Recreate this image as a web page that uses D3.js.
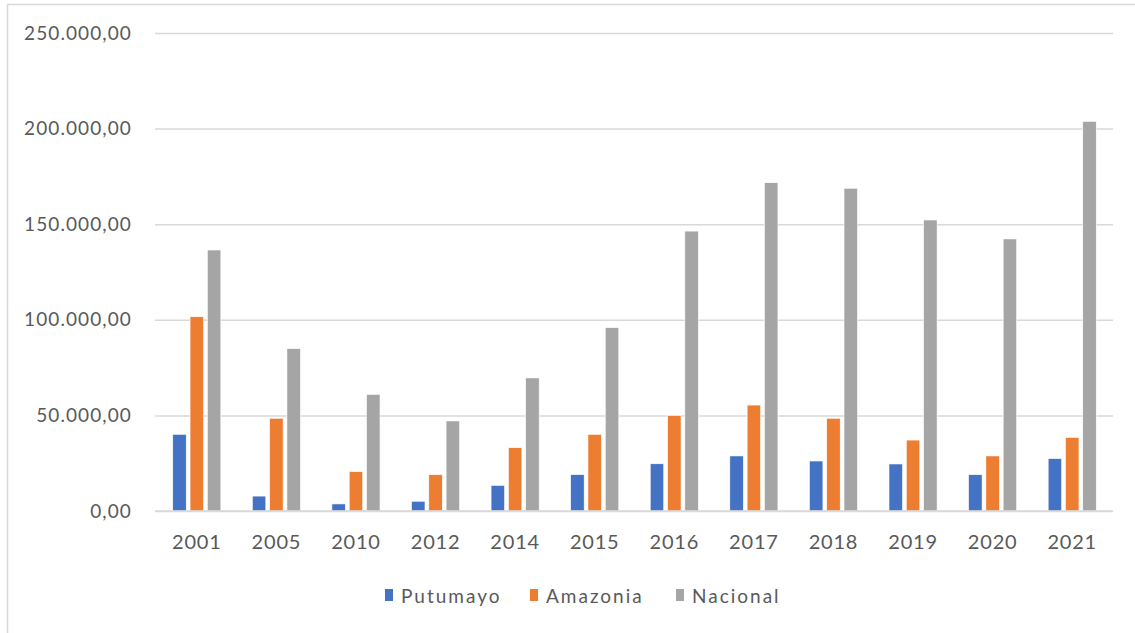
<!DOCTYPE html>
<html>
<head>
<meta charset="utf-8">
<script src="https://cdn.jsdelivr.net/npm/d3@7"></script>
<style>
  html, body { margin: 0; padding: 0; background: #fff; }
  svg { display: block; }
  text { font-family: Lato, "Open Sans", sans-serif; fill: #595959; }
</style>
</head>
<body>
<svg id="chart" width="1135" height="633"></svg>
<script>
// Years on the category axis
const years = ["2001", "2005", "2010", "2012", "2014", "2015", "2016", "2017", "2018", "2019", "2020", "2021"];

// Series values per year
const putumayo = [40100, 7800, 3700, 5100, 13400, 19000, 24700, 28800, 26150, 24600, 19000, 27400];
const amazonia = [101600, 48500, 20600, 19000, 33100, 40100, 49900, 55400, 48500, 37100, 28800, 38500];
const nacional = [136500, 84900, 61000, 47100, 69600, 95900, 146400, 171700, 168800, 152200, 142300, 203800];

const seriesNames = ["Putumayo", "Amazonia", "Nacional"];
const seriesValues = [putumayo, amazonia, nacional];
const seriesColors = ["#4472C4", "#ED7D31", "#A5A5A5"];

// Value-axis ticks
const yTicks = [0, 50000, 100000, 150000, 200000, 250000];

const svg = d3.select("#chart");

// Outer frame of the chart area
svg.append("rect")
  .attr("x", 7.5).attr("y", 4.5)
  .attr("width", 1140).attr("height", 640)
  .attr("fill", "#fff")
  .attr("stroke", "#D9D9D9")
  .attr("stroke-width", 1.5);

const gridLeft = 155, gridRight = 1113;

const y = d3.scaleLinear().domain([0, 250000]).range([511, 33]);
const x = d3.scaleBand().domain(years).range([157, 1112]).paddingInner(0).paddingOuter(0);

const barW = 13.5, barGap = 3.8;
const xs = d3.scaleBand().domain(seriesNames)
  .range([-(3 * barW + 2 * barGap) / 2, (3 * barW + 2 * barGap) / 2])
  .paddingInner(barGap / (barW + barGap)).paddingOuter(0);

// Number format with "." thousands and "," decimals
const fmtLocale = d3.formatLocale({ decimal: ",", thousands: ".", grouping: [3], currency: ["$", ""] });
const fmt = fmtLocale.format(",.2f");

// Horizontal gridlines
const yAxis = d3.axisLeft(y).tickValues(yTicks).tickFormat(fmt)
  .tickSize(-(gridRight - gridLeft)).tickPadding(23);
const gy = svg.append("g").attr("transform", `translate(${gridLeft},0)`).call(yAxis);
gy.select(".domain").remove();
gy.selectAll(".tick line").attr("stroke", "#D9D9D9").attr("stroke-width", 1.5);
gy.selectAll(".tick text")
  .attr("fill", "#595959")
  .style("font-size", "19px")
  .style("letter-spacing", "1.1px")
  .style("font-family", "Lato, 'Open Sans', sans-serif");

// Bars
const groups = svg.append("g").selectAll("g")
  .data(years)
  .join("g")
  .attr("transform", d => `translate(${x(d) + x.bandwidth() / 2},0)`);

groups.selectAll("rect")
  .data((d, i) => seriesNames.map((s, k) => ({ s, k, v: seriesValues[k][i] })))
  .join("rect")
  .attr("x", d => xs(d.s))
  .attr("width", xs.bandwidth())
  .attr("y", d => y(d.v))
  .attr("height", d => y(0) - y(d.v))
  .attr("fill", d => seriesColors[d.k])
  .attr("stroke", "#fff")
  .attr("stroke-width", 0.6);

// Category axis
const xAxis = d3.axisBottom(x).tickSize(0).tickPadding(24);
const gx = svg.append("g").attr("transform", "translate(0,511)").call(xAxis);
gx.select(".domain").remove();
svg.append("line")
  .attr("x1", gridLeft).attr("x2", gridRight)
  .attr("y1", y(0)).attr("y2", y(0))
  .attr("stroke", "#D9D9D9").attr("stroke-width", 1.5);
gx.selectAll(".tick text")
  .attr("fill", "#595959")
  .style("font-size", "20px")
  .style("letter-spacing", "0.8px")
  .style("font-family", "Lato, 'Open Sans', sans-serif");

// Legend
const legendX = [385, 530, 676];
const legend = svg.append("g").selectAll("g")
  .data(seriesNames)
  .join("g")
  .attr("transform", (d, i) => `translate(${legendX[i]},0)`);
legend.append("rect")
  .attr("x", 0).attr("y", 589)
  .attr("width", 8).attr("height", 12)
  .attr("fill", (d, i) => seriesColors[i]);
legend.append("text")
  .attr("x", 16).attr("y", 596)
  .attr("dy", "0.35em")
  .style("font-size", "19px")
  .style("letter-spacing", "2px")
  .text(d => d);
</script>
</body>
</html>
